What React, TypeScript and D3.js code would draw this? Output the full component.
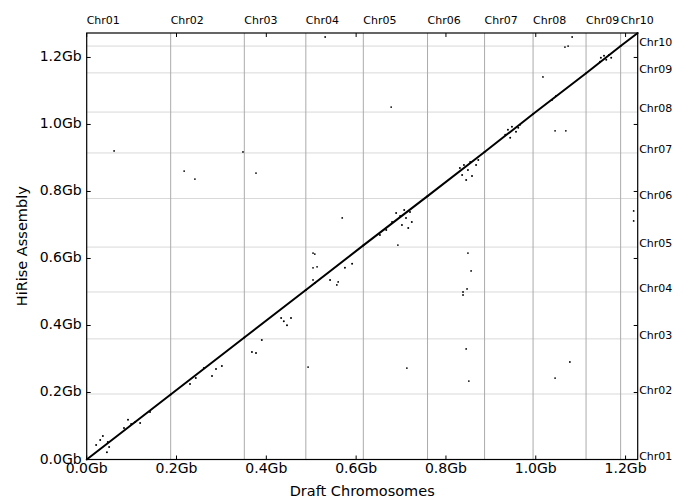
import React from "react";
import * as d3 from "d3";

const chromosomes = ["Chr01", "Chr02", "Chr03", "Chr04", "Chr05", "Chr06", "Chr07", "Chr08", "Chr09", "Chr10"];
const draftStarts = [0, 0.187, 0.351, 0.488, 0.616, 0.759, 0.886, 0.994, 1.112, 1.189];
const draftEnd = 1.227;
const hiriseStarts = [0, 0.1955, 0.36, 0.5, 0.634, 0.779, 0.915, 1.037, 1.154, 1.234];
const hiriseEnd = 1.273;
const tickValues = [0, 0.2, 0.4, 0.6, 0.8, 1.0, 1.2];

// main collinear alignment blocks along the diagonal (draft Gb -> HiRise Gb)
const blockDraftStart = [0, 0.187, 0.351, 0.488, 0.616, 0.759, 0.886, 0.994, 1.112, 1.189];
const blockDraftEnd = [0.187, 0.351, 0.488, 0.616, 0.759, 0.886, 0.994, 1.112, 1.189, 1.227];
const blockHiriseStart = [0, 0.194, 0.364, 0.506, 0.639, 0.786, 0.918, 1.031, 1.153, 1.234];
const blockHiriseEnd = [0.194, 0.364, 0.506, 0.639, 0.786, 0.918, 1.031, 1.153, 1.234, 1.273];

// off-diagonal alignments [draft Gb, hirise Gb]
const outliers: [number, number][] = [
  [0.061, 0.921], [0.217, 0.861], [0.241, 0.837], [0.348, 0.918], [0.377, 0.855],
  [0.493, 0.276], [0.713, 0.273], [1.043, 0.243], [1.076, 0.291], [0.678, 1.052],
  [1.043, 0.981], [1.067, 0.981], [1.218, 0.742], [1.218, 0.712], [0.849, 0.616],
  [0.856, 0.563], [0.847, 0.509], [0.838, 0.5], [0.838, 0.491], [0.845, 0.33],
  [0.851, 0.234], [0.531, 1.261], [1.081, 1.261], [1.072, 1.234], [1.065, 1.231],
  [1.016, 1.142], [0.504, 0.616], [0.508, 0.613], [0.504, 0.572], [0.513, 0.575],
  [0.504, 0.536], [0.508, 0.527], [0.56, 0.53], [0.557, 0.521], [0.569, 0.721],
  [0.693, 0.64],
];

// alignments scattered close to the diagonal
const nearDiagonal: [number, number][] = [
  [0.03, 0.058], [0.047, 0.052], [0.05, 0.037], [0.045, 0.022], [0.021, 0.043],
  [0.036, 0.07], [0.108, 0.112], [0.119, 0.109], [0.099, 0.106], [0.083, 0.094],
  [0.141, 0.142], [0.092, 0.119],
  [0.261, 0.273], [0.279, 0.249], [0.288, 0.27], [0.301, 0.279], [0.23, 0.225], [0.243, 0.243],
  [0.368, 0.321], [0.377, 0.318], [0.39, 0.357], [0.439, 0.413], [0.446, 0.401], [0.433, 0.422], [0.455, 0.422],
  [0.542, 0.536], [0.575, 0.572], [0.591, 0.584],
  [0.68, 0.709], [0.689, 0.736], [0.698, 0.727], [0.707, 0.745], [0.711, 0.721], [0.72, 0.739],
  [0.724, 0.709], [0.716, 0.691], [0.702, 0.7], [0.667, 0.685], [0.653, 0.67],
  [0.831, 0.87], [0.84, 0.879], [0.849, 0.864], [0.858, 0.846], [0.867, 0.879], [0.872, 0.894],
  [0.854, 0.888], [0.836, 0.849], [0.845, 0.834],
  [0.932, 0.969], [0.938, 0.984], [0.947, 0.993], [0.956, 0.978], [0.961, 0.99], [0.943, 0.96], [0.965, 0.999],
  [1.036, 1.073], [1.045, 1.085],
  [1.145, 1.199], [1.152, 1.205], [1.157, 1.193], [1.163, 1.207], [1.168, 1.199], [1.143, 1.187],
];

const W = 683;
const H = 499;
const font = "DejaVu Sans, sans-serif";

export default function App() {
  const x = d3.scaleLinear().domain([0, draftEnd]).range([86.7, 637.7]);
  const y = d3.scaleLinear().domain([0, hiriseEnd]).range([459.5, 33]);
  const [x0, x1] = x.range();
  const [y0, y1] = y.range();

  const line = d3.line<[number, number]>().x((d) => x(d[0])).y((d) => y(d[1]));
  const segs = blockDraftStart.map((ds, i) => [
    [ds, blockHiriseStart[i]] as [number, number],
    [blockDraftEnd[i], blockHiriseEnd[i]] as [number, number],
  ]);
  const fmt = (v: number) => v.toFixed(1) + "Gb";
  const tl = 4;

  return (
    <svg width={W} height={H} style={{ position: "absolute", left: 0, top: 0, background: "#fff" }}>
      {hiriseStarts.slice(1).map((h, i) => (
        <line key={"h" + i} x1={x0} x2={x1} y1={y(h)} y2={y(h)} stroke="#d9d9d9" strokeWidth={1} />
      ))}
      {draftStarts.slice(1).map((d, i) => (
        <line key={"v" + i} x1={x(d)} x2={x(d)} y1={y0} y2={y1} stroke="#ababab" strokeWidth={1} />
      ))}
      {segs.map((s, i) => (
        <path key={"s" + i} d={line(s) || ""} stroke="#000" strokeWidth={2} fill="none" strokeLinecap="round" />
      ))}
      {nearDiagonal.map((p, i) => (
        <circle key={"n" + i} cx={x(p[0])} cy={y(p[1])} r={1} fill="#000" />
      ))}
      {outliers.map((p, i) => (
        <circle key={"o" + i} cx={x(p[0])} cy={y(p[1])} r={0.9} fill="#000" />
      ))}
      <rect x={x0} y={y1} width={x1 - x0} height={y0 - y1} fill="none" stroke="#000" strokeWidth={1.2} />
      {tickValues.map((t) => (
        <g key={"t" + t}>
          <line x1={x(t)} x2={x(t)} y1={y0} y2={y0 - tl} stroke="#000" />
          <line x1={x(t)} x2={x(t)} y1={y1} y2={y1 + tl} stroke="#000" />
          <line x1={x0} x2={x0 + tl} y1={y(t)} y2={y(t)} stroke="#000" />
          <line x1={x1} x2={x1 - tl} y1={y(t)} y2={y(t)} stroke="#000" />
          <text x={x(t)} y={y0 + 13} fontSize={14} fontFamily={font} textAnchor="middle">
            {fmt(t)}
          </text>
          <text x={x0 - 5} y={y(t) + 4} fontSize={14} fontFamily={font} textAnchor="end">
            {fmt(t)}
          </text>
        </g>
      ))}
      {chromosomes.map((c, i) => (
        <text key={"tc" + c} x={x(draftStarts[i])} y={24} fontSize={11} fontFamily={font}>
          {c}
        </text>
      ))}
      {chromosomes.map((c, i) => (
        <text key={"rc" + c} x={x1 + 1.5} y={y(hiriseStarts[i])} fontSize={11} fontFamily={font}>
          {c}
        </text>
      ))}
      <text x={(x0 + x1) / 2} y={496} fontSize={14.5} fontFamily={font} textAnchor="middle">
        Draft Chromosomes
      </text>
      <text
        transform={`translate(27, ${(y0 + y1) / 2}) rotate(-90)`}
        fontSize={14.5}
        fontFamily={font}
        textAnchor="middle"
      >
        HiRise Assembly
      </text>
    </svg>
  );
}
